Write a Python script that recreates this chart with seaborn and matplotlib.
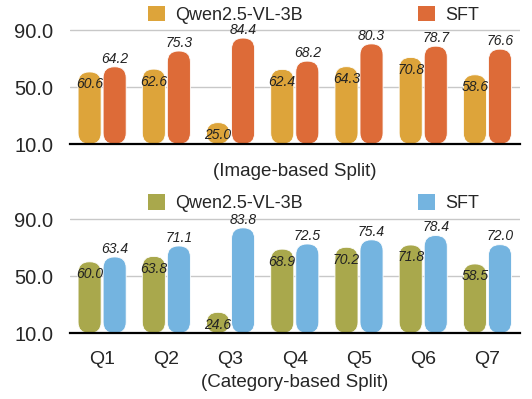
import pandas as pd
import seaborn as sns
import matplotlib.pyplot as plt
from matplotlib.patches import FancyBboxPatch, Patch

# data
questions = ["Q1", "Q2", "Q3", "Q4", "Q5", "Q6", "Q7"]
models = ["Qwen2.5-VL-3B", "SFT"]
image_base = [60.6, 62.6, 25.0, 62.4, 64.3, 70.8, 58.6]
image_sft = [64.2, 75.3, 84.4, 68.2, 80.3, 78.7, 76.6]
cat_base = [60.0, 63.8, 24.6, 68.9, 70.2, 71.8, 58.5]
cat_sft = [63.4, 71.1, 83.8, 72.5, 75.4, 78.4, 72.0]
yticks = [10.0, 50.0, 90.0]

sns.set_style("white")
plt.rcParams["font.family"] = ["Liberation Sans", "DejaVu Sans"]

fig = plt.figure(figsize=(5.32, 3.99), dpi=100)
ax_top = fig.add_axes([0.1316, 0.639, 0.845, 0.307])
ax_bot = fig.add_axes([0.1316, 0.165, 0.845, 0.3075])

YMIN, YMAX = 10, 96


def draw_panel(ax, base, sft, colors, xlabel, show_xticks, legend_y):
    df = pd.DataFrame({
        "question": questions * 2,
        "model": [models[0]] * len(questions) + [models[1]] * len(questions),
        "acc": base + sft,
    })
    sns.barplot(data=df, x="question", y="acc", hue="model", palette=colors,
                width=0.78, gap=0.08, legend=False, ax=ax)
    ax.set_xlim(-0.5, len(questions) - 0.5)
    ax.set_ylim(YMIN, YMAX)

    # ratio of y units to x units per pixel, so the corners look circular
    bb = ax.get_window_extent()
    aspect = ((YMAX - YMIN) / bb.height) / (len(questions) / bb.width)

    # swap plain bars for rounded ones starting at the baseline
    for i, (cont, color) in enumerate(zip(ax.containers, colors)):
        for bar in cont:
            x, w, h = bar.get_x(), bar.get_width(), bar.get_height()
            bar.set_visible(False)
            p = FancyBboxPatch((x, YMIN), w, h - YMIN,
                               boxstyle="round,pad=0,rounding_size=0.17",
                               mutation_aspect=aspect, fc=color,
                               ec="white", lw=0.6, zorder=2)
            ax.add_patch(p)
            cx = x + w / 2
            dy = -9 if i == 0 else 6
            ax.annotate(f"{h:.1f}", (cx, h), xytext=(0, dy),
                        textcoords="offset points", ha="center",
                        va="center", fontsize=10, style="italic",
                        color="#222222", zorder=3)

    ax.set_yticks(yticks)
    ax.set_yticklabels([f"{t:.1f}" for t in yticks], fontsize=14.5)
    ax.tick_params(axis="y", length=0, pad=12)
    ax.yaxis.grid(True, color="#c8c8c8", lw=1)
    ax.set_axisbelow(True)
    for s in ["top", "right", "left"]:
        ax.spines[s].set_visible(False)
    ax.spines["bottom"].set_color("black")
    ax.spines["bottom"].set_linewidth(1.6)
    ax.spines["bottom"].set_zorder(4)
    ax.set_ylabel("")
    if show_xticks:
        ax.tick_params(axis="x", length=0, pad=13, labelsize=14)
        ax.set_xlabel(xlabel, fontsize=13.5, labelpad=4)
    else:
        ax.set_xticklabels([])
        ax.tick_params(axis="x", length=0)
        ax.set_xlabel(xlabel, fontsize=13.5, labelpad=10)

    handles = [Patch(fc=c, ec="none") for c in colors]
    fig.legend(handles, models, loc="center left",
               bbox_to_anchor=(0.278, legend_y), ncol=2, frameon=False,
               fontsize=13, handlelength=0.95, handleheight=0.95,
               handletextpad=0.55, columnspacing=6.4, borderpad=0,
               borderaxespad=0)


draw_panel(ax_top, image_base, image_sft, ["#dda43a", "#dd6b38"],
           "(Image-based Split)", False, 0.963)
draw_panel(ax_bot, cat_base, cat_sft, ["#a9a84c", "#74b4e0"],
           "(Category-based Split)", True, 0.490)

fig.savefig("out.png", dpi=100)
